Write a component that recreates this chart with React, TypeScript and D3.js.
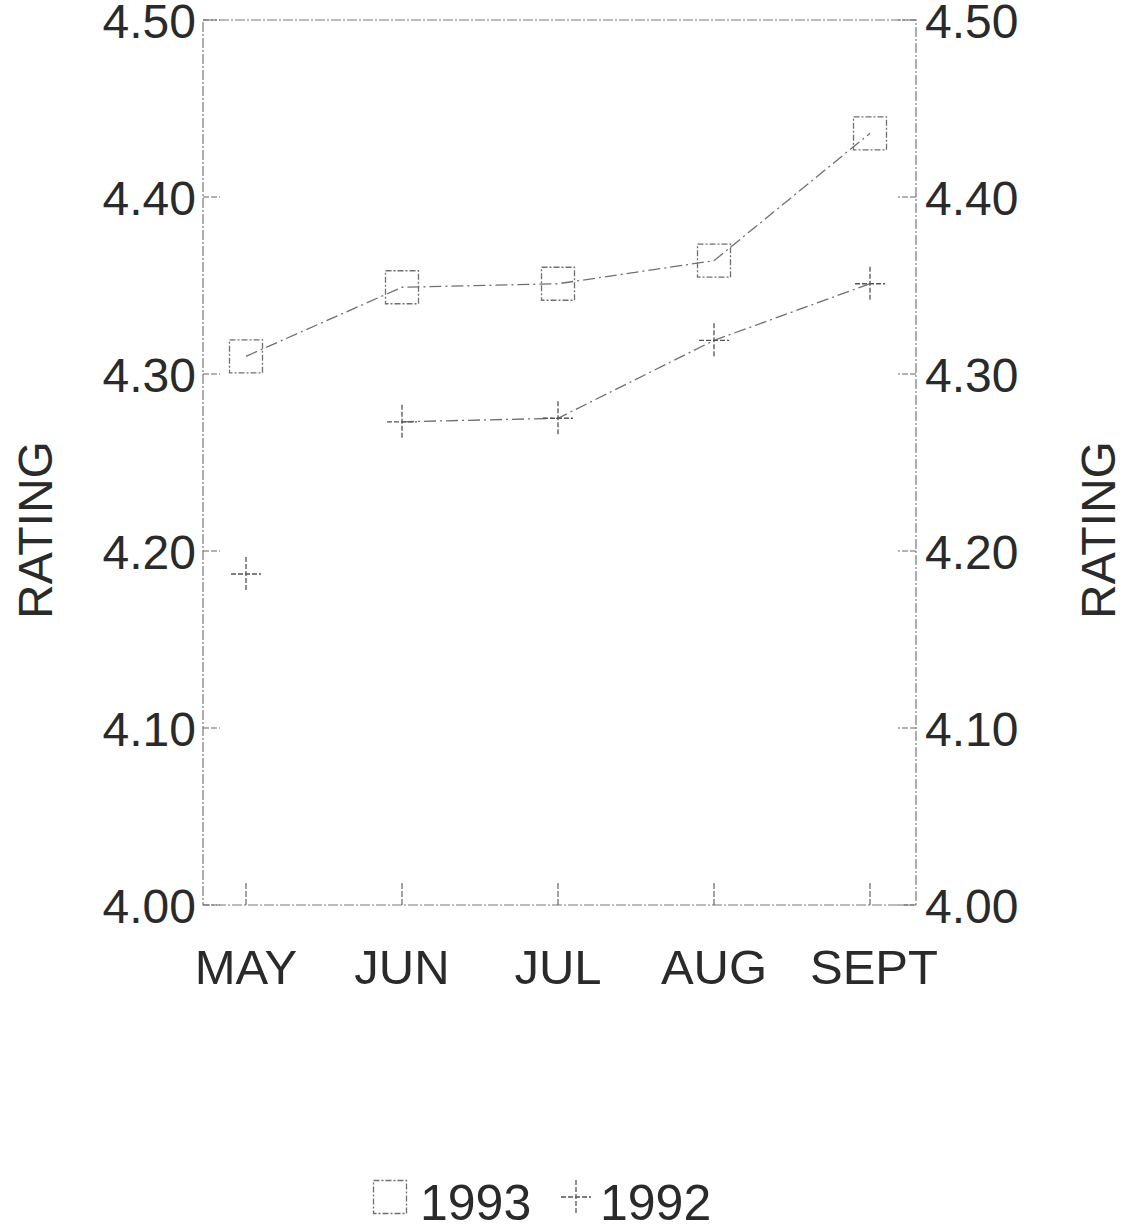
import React from "react";
import * as d3 from "d3";

const months = ["MAY", "JUN", "JUL", "AUG", "SEPT"];
const ratings1993 = [4.31, 4.349, 4.351, 4.364, 4.436];
const ratings1992 = [4.187, 4.273, 4.275, 4.319, 4.351];
const yTicks = [4.0, 4.1, 4.2, 4.3, 4.4, 4.5];
const seriesNames = ["1993", "1992"];

const W = 1125;
const H = 1230;
const frame = { left: 203, right: 916, top: 20, bottom: 905 };
const FONT = "'Liberation Sans', Arial, sans-serif";
const INK = "#2a2a2a";
const LINE = "#707070";

export default function App() {
  const x = d3.scalePoint<string>().domain(months).range([246, 870]);
  const y = d3.scaleLinear().domain([4.0, 4.5]).range([frame.bottom, frame.top]);

  const line = d3
    .line<[string, number]>()
    .x((d) => x(d[0]) as number)
    .y((d) => y(d[1]));

  const pts1993: [string, number][] = months.map((m, i) => [m, ratings1993[i]]);
  const pts1992: [string, number][] = months.map((m, i) => [m, ratings1992[i]]);

  const sq = 33;
  const plusW = 30;
  const plusH = 34;

  const Square = ({ cx, cy }: { cx: number; cy: number }) => (
    <rect
      x={cx - sq / 2}
      y={cy - sq / 2}
      width={sq}
      height={sq}
      fill="none"
      stroke={LINE}
      strokeWidth={1.3}
      strokeDasharray="6,2,2,2"
    />
  );
  const Plus = ({ cx, cy }: { cx: number; cy: number }) => (
    <g stroke="#555" strokeWidth={1.3}>
      <line x1={cx - plusW / 2} x2={cx + plusW / 2} y1={cy} y2={cy} strokeDasharray="5,2" />
      <line x1={cx} x2={cx} y1={cy - plusH / 2} y2={cy + plusH / 2} strokeDasharray="5,2" />
    </g>
  );

  return (
    <svg
      width={W}
      height={H}
      style={{ position: "absolute", left: 0, top: 0, background: "#fff" }}
      fontFamily={FONT}
    >
      <rect x={0} y={0} width={W} height={H} fill="#fff" />
      <rect
        x={frame.left}
        y={frame.top}
        width={frame.right - frame.left}
        height={frame.bottom - frame.top}
        fill="none"
        stroke="#777"
        strokeWidth={1.2}
        strokeDasharray="10,2,2,2"
      />
      {yTicks.map((t) => (
        <g key={t}>
          <line x1={frame.left} x2={frame.left + 17} y1={y(t)} y2={y(t)} stroke="#666" strokeWidth={1.2} strokeDasharray="6,2" />
          <line x1={frame.right} x2={frame.right - 18} y1={y(t)} y2={y(t)} stroke="#666" strokeWidth={1.2} strokeDasharray="6,2" />
          <text x={196} y={y(t)} dy="0.37em" textAnchor="end" fontSize={48} fill={INK}>
            {t.toFixed(2)}
          </text>
          <text x={925} y={y(t)} dy="0.37em" textAnchor="start" fontSize={48} fill={INK}>
            {t.toFixed(2)}
          </text>
        </g>
      ))}
      {months.map((m) => (
        <g key={m}>
          <line x1={x(m)} x2={x(m)} y1={frame.bottom} y2={frame.bottom - 22} stroke="#666" strokeWidth={1.2} strokeDasharray="6,2" />
          <text x={(x(m) as number) + (m === "SEPT" ? 4 : 0)} y={984} textAnchor="middle" fontSize={49} fill={INK}>
            {m}
          </text>
        </g>
      ))}
      <text transform="translate(52,530) rotate(-90)" textAnchor="middle" fontSize={48} fill={INK}>
        RATING
      </text>
      <text transform="translate(1115,530) rotate(-90)" textAnchor="middle" fontSize={48} fill={INK}>
        RATING
      </text>
      <path d={line(pts1993) || ""} fill="none" stroke={LINE} strokeWidth={1.3} strokeDasharray="12,4,2,4" />
      <path d={line(pts1992.slice(1)) || ""} fill="none" stroke={LINE} strokeWidth={1.3} strokeDasharray="12,4,2,4" />
      {pts1993.map((d) => (
        <Square key={"s" + d[0]} cx={x(d[0]) as number} cy={y(d[1])} />
      ))}
      {pts1992.map((d) => (
        <Plus key={"p" + d[0]} cx={x(d[0]) as number} cy={y(d[1])} />
      ))}
      <Square cx={390} cy={1197} />
      <text x={420} y={1220} fontSize={50} fill={INK}>
        {seriesNames[0]}
      </text>
      <Plus cx={576} cy={1197} />
      <text x={600} y={1220} fontSize={50} fill={INK}>
        {seriesNames[1]}
      </text>
    </svg>
  );
}
